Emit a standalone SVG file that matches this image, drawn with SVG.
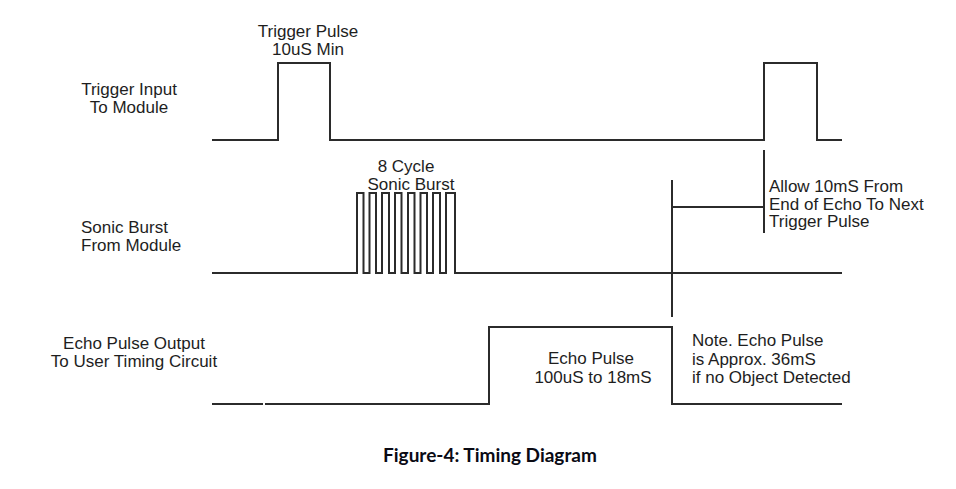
<svg xmlns="http://www.w3.org/2000/svg" width="956" height="489" viewBox="0 0 956 489">
<style>
.w{fill:none;stroke:#2b2b2b;stroke-width:2;stroke-linejoin:miter}
.t{font-family:"Liberation Sans",Arial,sans-serif;font-size:17px;fill:#1e1e1e}
.m{text-anchor:middle}
.cap{font-family:Lato,"Liberation Sans",sans-serif;font-weight:bold;font-size:19px;fill:#0a0a14;text-anchor:middle}
</style>
<rect width="956" height="489" fill="#fff"/>
<g id="trigger">
<text class="t m" x="129" y="95">Trigger Input</text>
<text class="t m" x="129" y="112.5">To Module</text>
<text class="t m" x="308" y="37">Trigger Pulse</text>
<text class="t m" x="308" y="55">10uS Min</text>
</g>
<g id="burst">
<text class="t" x="81" y="233">Sonic Burst</text>
<text class="t" x="81" y="250.5">From Module</text>
<text class="t m" x="406" y="171.5">8 Cycle</text>
<text class="t m" x="411" y="189.5">Sonic Burst</text>
</g>
<g id="echo">
<text class="t m" x="134" y="349">Echo Pulse Output</text>
<text class="t m" x="134" y="366.5">To User Timing Circuit</text>
<text class="t m" x="591" y="364">Echo Pulse</text>
<text class="t m" x="593" y="383">100uS to 18mS</text>
</g>
<g id="note">
<text class="t" x="692" y="346">Note. Echo Pulse</text>
<text class="t" x="692" y="365">is Approx. 36mS</text>
<text class="t" x="692" y="383">if no Object Detected</text>
</g>
<g id="allow">
<text class="t" x="769" y="192">Allow 10mS From</text>
<text class="t" x="769" y="209.5">End of Echo To Next</text>
<text class="t" x="769" y="227">Trigger Pulse</text>
</g>
<g id="connectors">
<path class="w" d="M212,140 H278 V63 H330 V140 H764 V63 H817 V140 H842"/>
<path class="w" d="M212,273 H357 V193 H363.5 V273 H369.5 V193 H376 V273 H382 V193 H389 V273 H395 V193 H401.5 V273 H408 V193 H414.5 V273 H420.5 V193 H427 V273 H433 V193 H440 V273 H446 V193 H455 V273 H842"/>
<path class="w" d="M212,404 H263 M265,404 H489 V327 H672 V404 H842"/>
<path class="w" d="M764,150 V233 M672,207 H764 M672,180 V317"/>
</g>
<text id="caption" class="cap" x="490" y="462">Figure-4: Timing Diagram</text>
</svg>
